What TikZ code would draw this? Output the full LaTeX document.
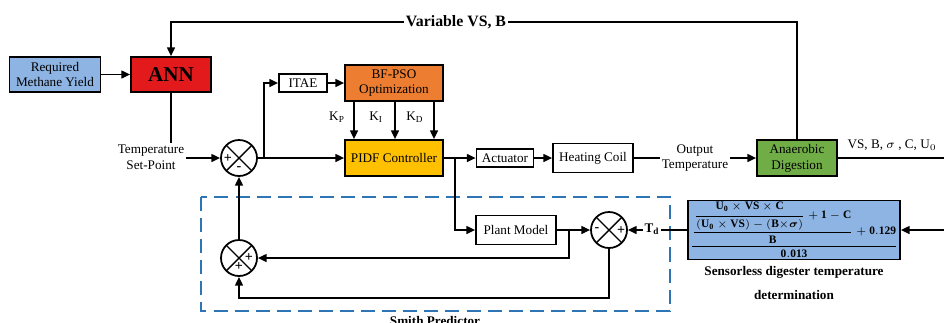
\documentclass[tikz,border=0pt]{standalone}
\usepackage{amsmath}
\usepackage{fontspec}
\setmainfont{Liberation Serif}
\usetikzlibrary{arrows.meta,calc}
\definecolor{boxblue}{HTML}{8DB4E2}
\definecolor{annred}{HTML}{E31A1C}
\definecolor{psoorange}{HTML}{ED7D31}
\definecolor{pidgold}{HTML}{FFC000}
\definecolor{adgreen}{HTML}{70AD47}
\definecolor{smithblue}{HTML}{2E75B6}
\newcommand{\sensformula}{$\displaystyle\frac{\displaystyle\frac{\displaystyle\frac{\mathbf{U_0\times VS\times C}}{\mathbf{(U_0\times VS)-(B\times}\boldsymbol{\sigma}\mathbf{)}}+\mathbf{1-C}}{\mathbf{B}}+\mathbf{0.129}}{\mathbf{0.013}}$}

\begin{document}
\begin{tikzpicture}[x=0.02cm,y=-0.02cm,
    blk/.style={draw,line width=1pt,inner sep=1pt,align=center,font=\fontsize{7.5}{9}\selectfont},
    sumj/.style={draw,circle,line width=1pt,minimum size=0.72cm,inner sep=0pt,
        path picture={\draw[line width=0.8pt]
            (path picture bounding box.south west) -- (path picture bounding box.north east)
            (path picture bounding box.north west) -- (path picture bounding box.south east);}},
    sgn/.style={inner sep=0pt,font=\fontsize{8}{8}\selectfont\bfseries},
    ln/.style={line width=0.9pt},
    arr/.style={line width=0.9pt,-{Triangle[length=5pt,width=4.5pt]}},
    lbl/.style={fill=white,inner sep=1pt,align=center,font=\fontsize{7.5}{9}\selectfont}]
    \useasboundingbox (0,0) rectangle (944,322);

    % Upper chain
    \node[blk,fill=boxblue,minimum width=1.82cm,minimum height=0.7cm] (rmy) at (55,74.5) {Required\\Methane Yield};
    \node[blk,fill=annred,minimum width=1.6cm,minimum height=0.7cm,font=\fontsize{12}{12}\selectfont\bfseries] (ann) at (171,74.5) {ANN};
    \node[sumj] (s1) at (239,158) {};
    \node[sgn] (s1p) at (228,159) {+};
    \node[sgn] (s1m) at (239,169) {-};
    \node[blk,minimum width=0.96cm,minimum height=0.36cm] (itae) at (303,83) {ITAE};
    \node[blk,fill=psoorange,minimum width=1.96cm,minimum height=0.72cm] (bfpso) at (394,83) {BF-PSO\\Optimization};
    \node[blk,fill=pidgold,minimum width=1.96cm,minimum height=0.72cm] (pidf) at (394,158) {PIDF Controller};
    \node[blk,minimum width=1.14cm,minimum height=0.36cm] (act) at (505,158) {Actuator};
    \node[blk,minimum width=1.6cm,minimum height=0.58cm] (heat) at (593,158) {Heating Coil};
    \node[blk,fill=adgreen,minimum width=1.6cm,minimum height=0.72cm] (ad) at (797,158) {Anaerobic\\Digestion};

    % Smith predictor
    \draw[smithblue,line width=0.9pt,dash pattern=on 8pt off 4pt] (201,197) rectangle (670,311);
    \node[font=\fontsize{7.5}{9}\selectfont\bfseries,anchor=north] (smith) at (435,310) {Smith Predictor};
    \node[blk,minimum width=1.6cm,minimum height=0.58cm] (plant) at (516,230) {Plant Model};
    \node[sumj] (s2) at (609,230) {};
    \node[sgn] (s2m) at (597,230) {-};
    \node[sgn] (s2p) at (621,231) {+};
    \node[sumj] (s3) at (239,258) {};
    \node[sgn] (s3r) at (249,258) {+};
    \node[sgn] (s3b) at (239,267) {+};

    % Sensorless estimate
    \node[draw,line width=1pt,inner sep=1pt,fill=boxblue,minimum width=4.12cm,minimum height=1.08cm,font=\fontsize{6.5}{7}\selectfont] (form) at (794,230) {\sensformula};
    \node[font=\fontsize{7.5}{9}\selectfont\bfseries,align=center] (sens) at (794,283) {Sensorless digester temperature\\[4.5pt]determination};

    % Connectors
    \coordinate (topl) at (456,22);
    \coordinate (br1) at (264,158);
    \coordinate (br2) at (455,158);
    \coordinate (br3) at (569,230);
    \coordinate (outr) at (944,158);
    \coordinate (inr) at (944,230);
    \draw[arr] (rmy) -- (ann);
    \draw[arr] (ad.north) |- (topl) -| (ann.north);
    \draw[arr] (ann.south) |- (s1.west);
    \draw[arr] (s1.east) -- (pidf.west);
    \draw[arr] (br1) |- (itae.west);
    \draw[arr] (itae) -- (bfpso);
    \foreach \dx in {-40,1,40}
        \draw[arr] ($(bfpso.south)+(\dx,0)$) -- ($(pidf.north)+(\dx,0)$);
    \draw[arr] (pidf.east) -- (act.west);
    \draw[arr] (br2) |- (plant.west);
    \draw[arr] (act) -- (heat);
    \draw[arr] (heat) -- (ad);
    \draw[ln] (ad.east) -- (outr);
    \draw[arr] (inr) -- (form.east);
    \draw[arr] (form.west) -- (s2.east);
    \draw[arr] (plant.east) -- (s2.west);
    \draw[arr] (br3) |- (s3.east);
    \draw[arr] (s2.south) -- ++(0,49) -| (s3.south);
    \draw[arr] (s3.north) -- (s1.south);

    % Labels over the lines
    \node[lbl,font=\fontsize{9}{10}\selectfont\bfseries] (vsb) at (topl) {Variable VS, B};
    \node[lbl] (tsp) at (151,157) {Temperature\\Set-Point};
    \node[lbl] (otemp) at (695,158) {Output\\Temperature};
    \node[lbl,font=\fontsize{7.5}{9}\selectfont\bfseries] (td) at (652,229) {T$_\mathbf{d}$};
    \node[font=\fontsize{7.5}{9}\selectfont,anchor=east,inner sep=0pt] (vsout) at (937,145) {VS, B, $\sigma$ , C, U$_0$};
    \node[font=\fontsize{7.5}{9}\selectfont] (kp) at (337,117) {K$_\mathrm{P}$};
    \node[font=\fontsize{7.5}{9}\selectfont] (ki) at (376,117) {K$_\mathrm{I}$};
    \node[font=\fontsize{7.5}{9}\selectfont] (kd) at (415,117) {K$_\mathrm{D}$};
\end{tikzpicture}
\end{document}
